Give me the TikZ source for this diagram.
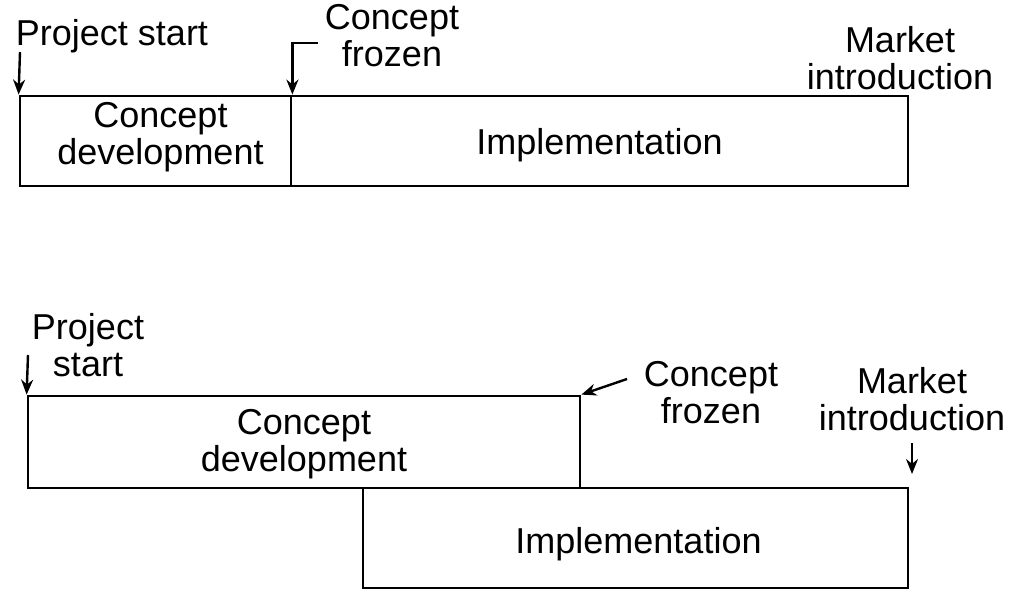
\documentclass[tikz,border=0pt]{standalone}
\usepackage{fontspec}
\setmainfont{Liberation Sans}
\usetikzlibrary{arrows.meta,fit}

\begin{document}
\begin{tikzpicture}[x=0.5pt,y=-0.5pt]
\tikzset{phase/.style={draw,line width=1.4pt,inner sep=0pt}}
\tikzset{lbl/.style={align=center,inner sep=1pt,font=\fontsize{18}{18.5}\selectfont}}
\tikzset{arr/.style={-{Stealth[length=7.5pt,width=6pt]},line width=1.2pt}}
\useasboundingbox (0,0) rectangle (1033,594);
% sequential phases
\node[phase,fit={(20,96) (291,186)}] (cdev1) {};
\node[phase,fit={(291,96) (908,186)}] (impl1) {};
\node[lbl] (cdevtxt1) at ([xshift=2.5pt,yshift=2pt]cdev1.center) {Concept\\development};
\node[lbl] (impltxt1) at ([yshift=-2pt]impl1.center) {Implementation};
\node[lbl] (start1) at (112,36) {Project start};
\node[lbl] (frozen1) at (392,36) {Concept\\frozen};
\node[lbl] (market1) at (900,58) {Market\\introduction};
\coordinate (s1) at (20,52);
\coordinate (f1) at (318,43);
\draw[arr] (s1) -- (cdev1.north west);
\draw[arr] (f1) -| (cdev1.north east);
% overlapping phases
\node[phase,fit={(28,396) (580,488)}] (cdev2) {};
\node[phase,fit={(363,488) (908,588)}] (impl2) {};
\node[lbl] (cdevtxt2) at ([yshift=-1pt]cdev2.center) {Concept\\development};
\node[lbl] (impltxt2) at ([xshift=1.5pt,yshift=-3pt]impl2.center) {Implementation};
\node[lbl] (start2) at (88,345) {Project\\start};
\node[lbl] (frozen2) at (711,393) {Concept\\frozen};
\node[lbl] (market2) at (912,399) {Market\\introduction};
\coordinate (s2) at (28,355);
\coordinate (f2) at (627,379);
\coordinate (m2a) at (912,443);
\coordinate (m2b) at (912,474);
\draw[arr] (s2) -- (cdev2.north west);
\draw[arr] (f2) -- (cdev2.north east);
\draw[arr] (m2a) -- (m2b);
\end{tikzpicture}
\end{document}
